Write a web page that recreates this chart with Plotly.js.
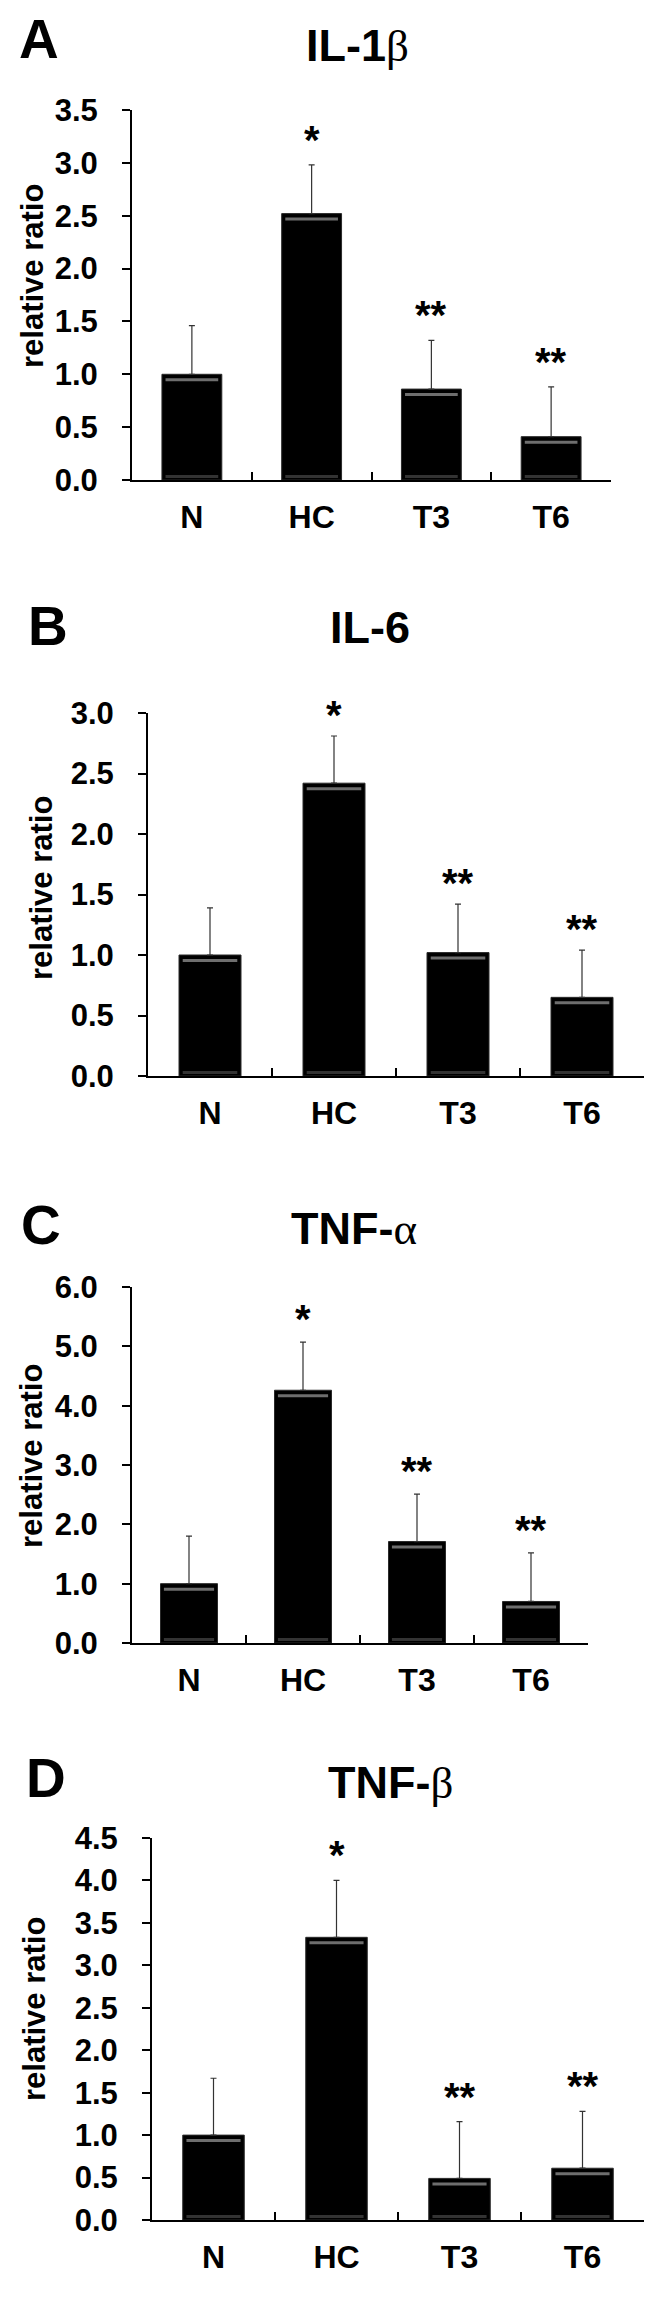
<!DOCTYPE html>
<html>
<head>
<meta charset="utf-8">
<script src="https://cdn.plot.ly/plotly-3.0.1.min.js"></script>
<style>html,body{margin:0;padding:0;background:#fff;}#chart{width:663px;height:2297px;}</style>
</head>
<body>
<div id="chart"></div>
<script>
// ---- data ----
const categories = ['N', 'HC', 'T3', 'T6'];
const il1bMean = [1.00, 2.52, 0.86, 0.41];
const il1bErr  = [0.46, 0.46, 0.46, 0.47];
const il6Mean  = [1.00, 2.42, 1.02, 0.65];
const il6Err   = [0.39, 0.39, 0.40, 0.39];
const tnfaMean = [1.00, 4.26, 1.71, 0.70];
const tnfaErr  = [0.80, 0.81, 0.80, 0.82];
const tnfbMean = [1.00, 3.33, 0.49, 0.61];
const tnfbErr  = [0.67, 0.67, 0.67, 0.67];
const sigMarks = ['', '*', '**', '**'];
const panelLetters = ['A', 'B', 'C', 'D'];
const titleStems = ['IL-1', 'IL-6', 'TNF-', 'TNF-'];
const titleGreek = ['β', '', 'α', 'β'];
const yAxisTitle = 'relative ratio';
const yMax = [3.5, 3.0, 6.0, 4.5];
const yStep = [0.5, 0.5, 1.0, 0.5];

// ---- layout (pixels) ----
const W = 663, H = 2297;
const FONT = 'Liberation Sans, Arial, sans-serif';
const panels = [
  {mean: il1bMean, err: il1bErr, left: 132, right: 611, top: 110, bottom: 480, letter: [39, 39], title: [357, 46], ylab: [33, 276], starShift: 1},
  {mean: il6Mean,  err: il6Err,  left: 148, right: 644, top: 713, bottom: 1076, letter: [48, 626], title: [370, 627], ylab: [41, 888], starShift: -3},
  {mean: tnfaMean, err: tnfaErr, left: 132, right: 588, top: 1287, bottom: 1643, letter: [41, 1225], title: [354, 1228], ylab: [32, 1456], starShift: -1},
  {mean: tnfbMean, err: tnfbErr, left: 152, right: 644, top: 1838, bottom: 2220, letter: [46, 1778], title: [390, 1782], ylab: [34, 2009], starShift: 1}
];
const px = v => v / W;
const py = v => 1 - v / H;

const data = [];
const layout = {
  width: W, height: H,
  margin: {l: 0, r: 0, t: 0, b: 0},
  paper_bgcolor: '#fff', plot_bgcolor: '#fff',
  showlegend: false,
  font: {family: FONT, color: '#000'},
  annotations: [], shapes: []
};

panels.forEach((p, k) => {
  const xa = 'x' + (k ? k + 1 : ''), ya = 'y' + (k ? k + 1 : '');
  const xKey = 'xaxis' + (k ? k + 1 : ''), yKey = 'yaxis' + (k ? k + 1 : '');
  data.push({
    type: 'bar', x: categories, y: p.mean, xaxis: xa, yaxis: ya,
    marker: {color: '#000', line: {color: '#2a2a2a', width: 1}},
    error_y: {type: 'data', array: p.err, arrayminus: p.err.map(() => 0), symmetric: false,
              color: '#333', thickness: 1.2, width: 3},
    hoverinfo: 'none'
  });
  const tv = [];
  for (let v = 0; v <= yMax[k] + 1e-9; v += yStep[k]) tv.push(+v.toFixed(2));
  layout[xKey] = {
    domain: [px(p.left), px(p.right)], anchor: ya,
    type: 'category', range: [-0.5, 3.5],
    showline: true, linecolor: '#000', linewidth: 2,
    ticks: 'inside', tickson: 'boundaries', ticklen: 8, tickwidth: 2, tickcolor: '#000',
    showgrid: false, zeroline: false,
    tickfont: {family: FONT, size: 32, color: '#000', weight: 'bold'},
    ticklabelstandoff: 8
  };
  layout[yKey] = {
    domain: [py(p.bottom), py(p.top)], anchor: xa,
    range: [0, yMax[k]],
    tickvals: tv, ticktext: tv.map(v => v.toFixed(1)),
    showline: true, linecolor: '#000', linewidth: 2,
    ticks: 'outside', ticklen: 8, tickwidth: 2, tickcolor: '#000',
    showgrid: false, zeroline: false,
    tickfont: {family: FONT, size: 31, color: '#000', weight: 'bold'},
    ticklabelstandoff: 18
  };
  // panel letter
  layout.annotations.push({xref: 'paper', yref: 'paper', x: px(p.letter[0]), y: py(p.letter[1]),
    text: '<b>' + panelLetters[k] + '</b>', showarrow: false, xanchor: 'center', yanchor: 'middle',
    font: {family: FONT, size: 55, color: '#000'}});
  // panel title (Greek letter in a serif face, like the Symbol font of the original)
  const greek = titleGreek[k]
    ? '<span style="font-family:\'Liberation Serif\',\'DejaVu Serif\',serif;font-weight:normal">' + titleGreek[k] + '</span>'
    : '';
  layout.annotations.push({xref: 'paper', yref: 'paper', x: px(p.title[0]), y: py(p.title[1]),
    text: '<b>' + titleStems[k] + '</b>' + greek, showarrow: false, xanchor: 'center', yanchor: 'middle',
    font: {family: FONT, size: 45, color: '#000'}});
  // y axis title
  layout.annotations.push({xref: 'paper', yref: 'paper', x: px(p.ylab[0]), y: py(p.ylab[1]),
    text: '<b>' + yAxisTitle + '</b>', textangle: -90, showarrow: false, xanchor: 'center', yanchor: 'middle',
    font: {family: FONT, size: 31, color: '#000'}});
  // significance marks
  categories.forEach((c, i) => {
    if (!sigMarks[i]) return;
    layout.annotations.push({xref: xa, yref: ya, x: c, y: p.mean[i] + p.err[i],
      text: '<b>' + sigMarks[i] + '</b>', showarrow: false, xanchor: 'center', yanchor: 'bottom',
      yshift: p.starShift, font: {family: FONT, size: 40, color: '#000'}});
  });
  // bevel highlights on bars
  p.mean.forEach((v, i) => {
    layout.shapes.push({type: 'rect', xref: xa, yref: ya, x0: i - 0.22, x1: i + 0.22,
      ysizemode: 'pixel', yanchor: v, y0: -4, y1: -7, fillcolor: '#6e6e6e', line: {width: 0}, layer: 'above'});
    layout.shapes.push({type: 'rect', xref: xa, yref: ya, x0: i - 0.22, x1: i + 0.22,
      ysizemode: 'pixel', yanchor: 0, y0: 2, y1: 5, fillcolor: '#333', line: {width: 0}, layer: 'above'});
  });
});
layout.bargap = 0.5;

Plotly.newPlot('chart', data, layout, {staticPlot: true, displayModeBar: false});
</script>
</body>
</html>
